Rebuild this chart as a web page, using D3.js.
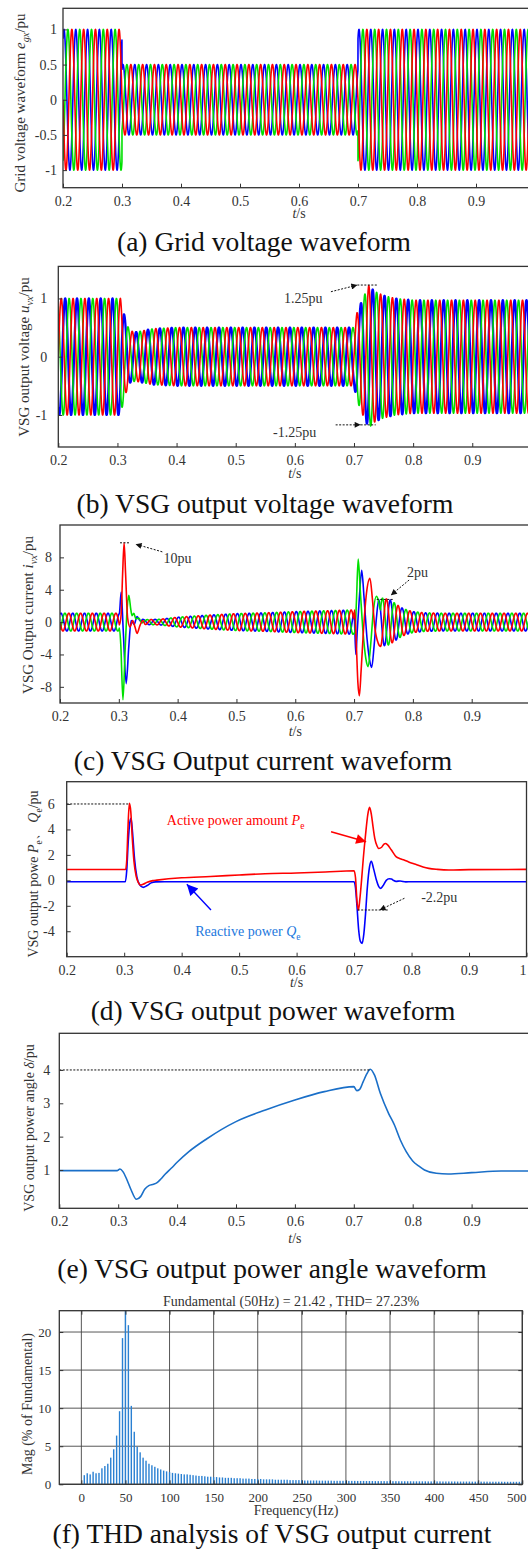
<!DOCTYPE html>
<html>
<head>
<meta charset="utf-8">
<script src="https://cdn.jsdelivr.net/npm/d3@7"></script>
<style>
  body { margin: 0; background: #fff; }
  svg text { font-family: "Liberation Serif", "Times New Roman", serif; fill: #333; }
</style>
</head>
<body>
<svg id="fig" width="528" height="1553"></svg>
<script>
// ---- shared time axis and three-phase carrier (50 Hz: 5 cycles per 0.1 s) ----
const FREQ = 50;
const T_REF = 0.3;
const tTicks = [0.2, 0.3, 0.4, 0.5, 0.6, 0.7, 0.8, 0.9];
const tTicksD = [0.2, 0.3, 0.4, 0.5, 0.6, 0.7, 0.8, 0.9, 1];
const phaseColor = ['#0000ff', '#00e000', '#ff0000'];   // blue, green, red
const phaseShiftDeg = [-30, -150, 90];

// (a) grid voltage envelope (pu)
const gridEnvT = [0.2, 0.3, 0.3, 0.7, 0.7, 1.0];
const gridEnvA = [1, 1, 0.5, 0.5, 1, 1];
const gridYTicks = [-1, -0.5, 0, 0.5, 1];

// (b) VSG output voltage envelope (pu)
const vsgVEnvT = [0.2, 0.305, 0.312, 0.32, 0.33, 0.36, 0.4, 0.7, 0.705, 0.715, 0.725, 0.735, 0.75, 0.77, 0.8, 1.0];
const vsgVEnvA = [1, 1, 0.7, 0.45, 0.42, 0.48, 0.5, 0.5, 0.75, 1.0, 1.22, 1.12, 1.05, 1.0, 0.97, 0.97];
const vsgVShiftDeg = 180;
const vsgVYTicks = [-1, 0, 1];

// (c) VSG output current envelope + transient samples per phase (pu)
const curEnvT = [0.2, 0.3, 0.345, 0.37, 0.4, 0.45, 0.5, 0.55, 0.6, 0.7, 0.745, 0.76, 0.77, 0.78, 0.79, 0.8, 0.82, 0.85, 1.0];
const curEnvA = [1.1, 1.1, 0.3, 0.35, 0.6, 0.85, 1.05, 1.15, 1.3, 1.5, 3.0, 2.8, 2.3, 1.8, 1.5, 1.3, 1.15, 1.1, 1.1];
const curBlueDip = [[0.301,1.07],[0.304,3.7],[0.3075,-1],[0.3125,-7.6],[0.317,-3],[0.321,0.2],[0.326,-0.3],[0.331,0.7],[0.337,0.1],[0.341,0.35],[0.345,0.15]];
const curGreenDip = [[0.301,-0.74],[0.3035,-3],[0.307,-9.6],[0.311,-3],[0.3145,2],[0.317,3.3],[0.3205,1.5],[0.3225,0.8],[0.3255,1.1],[0.329,0.4],[0.334,0.5],[0.339,-0.1],[0.345,0.15]];
const curRedDip = [[0.301,-0.34],[0.304,1],[0.3065,6],[0.309,9.8],[0.3115,6],[0.315,0.5],[0.319,-0.6],[0.3235,0.2],[0.3275,-0.6],[0.331,-1.4],[0.336,-0.4],[0.341,0.2],[0.345,-0.3]];
const curBlueRise = [[0.699,1.0],[0.7005,0.5],[0.703,-4],[0.7055,-1],[0.709,3],[0.713,6.4],[0.717,3],[0.722,-2],[0.726,-4.5],[0.73,-5.6],[0.734,-3],[0.738,0.5],[0.742,2.8],[0.745,1.5]];
const curGreenRise = [[0.699,-1.47],[0.7015,-1.2],[0.704,2.5],[0.707,7.8],[0.7105,4],[0.715,-1],[0.72,-4.5],[0.724,-5.5],[0.728,-3],[0.733,1.5],[0.738,3.2],[0.741,2.8],[0.745,1.5]];
const curRedRise = [[0.699,0.46],[0.701,1.5],[0.704,-3],[0.7065,-7.5],[0.709,-9.1],[0.712,-6],[0.716,-1],[0.721,3.5],[0.727,5.4],[0.731,3],[0.735,-0.5],[0.741,-2.6],[0.745,-3]];
const curYTicks = [-8, -4, 0, 4, 8];

// (d) VSG output power (pu)
const powT = [0.2, 0.3025, 0.3045, 0.3065, 0.309, 0.3115, 0.314, 0.317, 0.321, 0.325, 0.328, 0.333, 0.34, 0.35, 0.357, 0.4, 0.45, 0.5, 0.545, 0.6, 0.65, 0.7, 0.7025, 0.705, 0.7075, 0.71, 0.713, 0.716, 0.72, 0.724, 0.727, 0.73, 0.733, 0.736, 0.74, 0.743, 0.748, 0.752, 0.755, 0.758, 0.7646, 0.773, 0.78, 0.787, 0.795, 0.807, 0.82, 0.83, 0.845, 0.865, 0.9, 1.0];
const powP = [0.85, 0.85, 1.6, 4.0, 6.05, 5.4, 3.4, 1.5, 0.3, -0.2, -0.37, -0.3, -0.15, -0.02, 0.02, 0.2, 0.3, 0.42, 0.52, 0.58, 0.66, 0.75, 0.2, -1.6, -2.33, -1.5, 0.0, 1.7, 3.6, 5.2, 5.73, 5.2, 4.2, 3.3, 2.7, 2.5, 2.6, 2.85, 2.9, 2.8, 2.4, 1.86, 1.7, 1.6, 1.45, 1.26, 1.05, 0.94, 0.86, 0.81, 0.84, 0.86];
const reacT = [0.2, 0.302, 0.3045, 0.307, 0.31, 0.312, 0.3145, 0.318, 0.322, 0.327, 0.333, 0.34, 0.347, 0.355, 0.37, 0.7, 0.7025, 0.705, 0.708, 0.711, 0.714, 0.717, 0.72, 0.723, 0.727, 0.73, 0.734, 0.739, 0.743, 0.746, 0.75, 0.756, 0.761, 0.765, 0.769, 0.773, 0.78, 0.79, 0.8, 1.0];
const reacQ = [-0.11, -0.11, 0.8, 3.0, 4.6, 4.87, 3.8, 1.7, 0.3, -0.35, -0.55, -0.4, -0.2, -0.12, -0.11, -0.11, -0.6, -2.0, -3.9, -4.8, -4.95, -4.2, -2.6, -0.6, 1.1, 1.5, 0.9, 0.0, -0.5, -0.63, -0.45, 0.0, 0.12, 0.1, -0.02, -0.08, -0.05, -0.12, -0.11, -0.11];
const powYTicks = [-4, -2, 0, 2, 4, 6];

// (e) power angle (pu)
const angT = [0.2, 0.25, 0.298, 0.303, 0.308, 0.315, 0.322, 0.331, 0.338, 0.345, 0.352, 0.36, 0.366, 0.372, 0.38, 0.39, 0.4, 0.42, 0.45, 0.5, 0.55, 0.6, 0.65, 0.7, 0.705, 0.71, 0.716, 0.722, 0.728, 0.735, 0.745, 0.759, 0.769, 0.779, 0.789, 0.8, 0.81, 0.82, 0.84, 0.86, 0.9, 0.95, 1.0];
const angV = [0.98, 0.98, 0.98, 1.03, 0.95, 0.7, 0.4, 0.12, 0.2, 0.42, 0.53, 0.57, 0.62, 0.72, 0.88, 1.05, 1.23, 1.55, 1.93, 2.45, 2.8, 3.1, 3.35, 3.5, 3.38, 3.42, 3.65, 3.88, 4.02, 3.85, 3.3, 2.7, 2.35, 1.9, 1.55, 1.27, 1.12, 1.0, 0.9, 0.88, 0.92, 0.97, 0.97];
const angYTicks = [1, 2, 3, 4];

// (f) FFT spectrum: bars every 10/3 Hz starting at 10/3 Hz, % of fundamental
const fftStep = 10 / 3;
const fftMag = [
  1.2, 1.45, 1.3, 1.65, 1.45, 1.5, 2.1, 2.4, 2.7, 3.5, 4.6, 6.4, 9.6, 19.2, 100,
  20.9, 10.3, 6.9, 4.95, 4.2, 3.5, 3.1, 2.7, 2.5, 2.3, 2.1, 1.95, 1.8, 1.7, 1.6,
  1.5, 1.45, 1.4, 1.35, 1.3, 1.3, 1.25, 1.2, 1.15, 1.1, 1.1, 1.05, 1.0, 1.0, 0.95,
  0.95, 0.9, 0.9, 0.85, 0.85, 0.85, 0.8, 0.8, 0.8, 0.75, 0.75, 0.75, 0.7, 0.7, 0.7,
  0.7, 0.65, 0.65, 0.65, 0.65, 0.6, 0.6, 0.6, 0.6, 0.6, 0.55, 0.55, 0.55, 0.55, 0.55,
  0.5, 0.5, 0.5, 0.5, 0.5, 0.48, 0.48, 0.48, 0.48, 0.48, 0.46, 0.46, 0.46, 0.46, 0.46,
  0.45, 0.45, 0.45, 0.44, 0.44, 0.44, 0.43, 0.43, 0.43, 0.42, 0.42, 0.42, 0.42, 0.41, 0.41,
  0.41, 0.41, 0.4, 0.4, 0.4, 0.4, 0.4, 0.39, 0.39, 0.39, 0.39, 0.39, 0.38, 0.38, 0.38,
  0.38, 0.38, 0.37, 0.37, 0.37, 0.37, 0.37, 0.36, 0.36, 0.36, 0.36, 0.36, 0.35, 0.35, 0.35,
  0.35, 0.35, 0.35, 0.34, 0.34, 0.34, 0.34, 0.34, 0.33, 0.33, 0.33, 0.33, 0.33, 0.33, 0.33
];
const fftXTicks = [0, 50, 100, 150, 200, 250, 300, 350, 400, 450, 500];
const fftYTicks = [0, 5, 10, 15, 20];

// ---------------------------------------------------------------------------
const svg = d3.select('#fig');
const defs = svg.append('defs');

function marker(id, color, len, wid) {
  defs.append('marker').attr('id', id)
    .attr('viewBox', '0 0 10 10').attr('refX', 10).attr('refY', 5)
    .attr('markerUnits', 'userSpaceOnUse')
    .attr('markerWidth', len).attr('markerHeight', wid)
    .attr('orient', 'auto')
    .append('path').attr('d', 'M0,0L10,5L0,10z').attr('fill', color);
}
marker('arrK', '#111', 9, 6);
marker('arrR', '#ff0000', 13, 10);
marker('arrB', '#0000ff', 13, 11);

function interp(ts, vs, t) {
  const i = d3.bisectRight(ts, t);
  if (i <= 0) return vs[0];
  if (i >= ts.length) return vs[vs.length - 1];
  const t0 = ts[i - 1], t1 = ts[i];
  return vs[i - 1] + (vs[i] - vs[i - 1]) * (t - t0) / (t1 - t0);
}

function phaseSeries(envT, envA, shiftDeg, windows) {
  const pts = [];
  windows = windows || [];
  for (let i = 0; i <= 8000; i++) {
    const t = 0.2 + i * 0.0001;
    if (windows.some(w => t > w[0][0] && t < w[w.length - 1][0])) continue;
    const a = interp(envT, envA, t);
    pts.push([t, a * Math.cos(2 * Math.PI * FREQ * (t - T_REF) + shiftDeg * Math.PI / 180)]);
  }
  windows.forEach(w => w.forEach(p => pts.push(p)));
  pts.sort((a, b) => a[0] - b[0]);
  return pts;
}

let clipN = 0;
function makePanel(o) {
  const x = d3.scaleLinear().domain(o.xDomain).range([o.left, o.right]);
  const y = d3.scaleLinear().domain(o.yDomain).range([o.bottom, o.top]);
  const g = svg.append('g');
  const id = 'clip' + (clipN++);
  defs.append('clipPath').attr('id', id).append('rect')
    .attr('x', o.left).attr('y', o.top)
    .attr('width', o.right - o.left).attr('height', o.bottom - o.top);
  const plot = g.append('g').attr('clip-path', `url(#${id})`);
  return { x, y, g, plot, o };
}

function rich(sel, parts, fs) {
  let inSub = false;
  parts.forEach(p => {
    const ts = sel.append('tspan').text(p.t);
    if (p.i) ts.attr('font-style', 'italic');
    if (p.sub && !inSub) { ts.attr('dy', fs * 0.28); inSub = true; }
    else if (!p.sub && inSub) { ts.attr('dy', -fs * 0.28); inSub = false; }
    if (p.sub) ts.attr('font-size', fs * 0.68);
  });
}

function drawAxes(P, a) {
  const { x, y, g, o } = P;
  const fmt = d => String(d);
  const xa = g.append('g').attr('transform', `translate(0,${o.bottom})`)
    .call(d3.axisBottom(x).tickValues(a.xTicks).tickSizeInner(-4).tickSizeOuter(0)
      .tickPadding(a.xPad).tickFormat(a.xFmt || fmt));
  const ya = g.append('g').attr('transform', `translate(${o.left},0)`)
    .call(d3.axisLeft(y).tickValues(a.yTicks).tickSizeInner(-4).tickSizeOuter(0)
      .tickPadding(a.yPad).tickFormat(fmt));
  [xa, ya].forEach(ax => {
    ax.attr('font-family', null).attr('font-size', null).attr('color', '#333');
    ax.select('.domain').remove();
    ax.selectAll('text').style('font-size', a.tickFs + 'px');
  });
  // keep a label that sits on the right edge inside the picture
  xa.selectAll('text').each(function (d) {
    const w = this.getComputedTextLength();
    const over = x(d) + w / 2 - 526;
    if (over > 0) d3.select(this).attr('dx', -over);
  });
  if (a.topTicks) {
    g.append('g').attr('transform', `translate(0,${o.top})`)
      .call(d3.axisTop(x).tickValues(a.xTicks).tickSizeInner(-4).tickSizeOuter(0).tickFormat(''))
      .attr('color', '#333').select('.domain').remove();
    g.append('g').attr('transform', `translate(${o.right},0)`)
      .call(d3.axisRight(y).tickValues(a.yTicks).tickSizeInner(-4).tickSizeOuter(0).tickFormat(''))
      .attr('color', '#333').select('.domain').remove();
  }
  g.append('rect').attr('x', o.left).attr('y', o.top)
    .attr('width', o.right - o.left).attr('height', o.bottom - o.top)
    .attr('fill', 'none').attr('stroke', '#333').attr('stroke-width', 1.3);
  // y label
  const yl = g.append('text')
    .attr('transform', `translate(${a.yLabX},${a.yLabY}) rotate(-90)`)
    .attr('text-anchor', 'middle').style('font-size', a.yLabFs + 'px');
  rich(yl, a.yLab, a.yLabFs);
  if (a.tLabDy) {
    const tl = g.append('text').attr('x', x(0.6)).attr('y', o.bottom + a.tLabDy)
      .attr('text-anchor', 'middle').style('font-size', a.tickFs + 'px');
    rich(tl, [{ t: 't', i: true }, { t: '/s' }], a.tickFs);
  }
  svg.append('text').attr('x', a.capX).attr('y', a.capY).attr('text-anchor', 'middle')
    .style('font-size', '27.5px').style('fill', '#111').text(a.cap);
}

function dotted(P, t0, v0, t1, v1, mk) {
  const l = P.g.append('line')
    .attr('x1', P.x(t0)).attr('y1', P.y(v0)).attr('x2', P.x(t1)).attr('y2', P.y(v1))
    .attr('stroke', '#111').attr('stroke-width', 1).attr('stroke-dasharray', '2,1.5');
  if (mk) l.attr('marker-end', `url(#${mk})`);
  return l;
}

function label(P, t, v, txt, fs, color) {
  P.g.append('text').attr('x', P.x(t)).attr('y', P.y(v))
    .style('font-size', fs + 'px').style('fill', color || '#333').text(txt);
}

function threePhase(P, envT, envA, extraShift, windowsByPhase, widths, curve) {
  const line = d3.line().x(d => P.x(d[0])).y(d => P.y(d[1])).curve(curve || d3.curveLinear);
  phaseColor.forEach((c, k) => {
    const pts = phaseSeries(envT, envA, phaseShiftDeg[k] + extraShift, windowsByPhase ? windowsByPhase[k] : null);
    P.plot.append('path').attr('d', line(pts)).attr('fill', 'none')
      .attr('stroke', c).attr('stroke-width', widths[k]).attr('stroke-linejoin', 'round');
  });
}

const tFmt = d => d === 1 ? '1' : d3.format('.1f')(d);

// ---------------- (a) ----------------
const A = makePanel({ left: 63, right: 535, top: 8.3, bottom: 187.7, xDomain: [0.2, 1.0], yDomain: [-1.25, 1.3] });
threePhase(A, gridEnvT, gridEnvA, 0, null, [1.6, 1.6, 1.6]);
drawAxes(A, {
  xTicks: tTicks, yTicks: gridYTicks, xFmt: tFmt, xPad: 8, yPad: 6, tickFs: 14,
  yLab: [{ t: 'Grid voltage waveform ' }, { t: 'e', i: true }, { t: 'gx', i: true, sub: true }, { t: '/pu' }],
  yLabX: 25, yLabY: 103, yLabFs: 15, tLabDy: 30,
  cap: '(a) Grid voltage waveform', capX: 264, capY: 251
});

// ---------------- (b) ----------------
const B = makePanel({ left: 58.3, right: 531.4, top: 266.4, bottom: 447, xDomain: [0.2, 1.0], yDomain: [-1.55, 1.55] });
threePhase(B, vsgVEnvT, vsgVEnvA, vsgVShiftDeg, null, [2.3, 1.6, 1.6]);
dotted(B, 0.661, 1.115, 0.7056, 1.23, 'arrK');
dotted(B, 0.7056, 1.23, 0.7406, 1.23);
dotted(B, 0.669, -1.17, 0.7113, -1.17, 'arrK');
dotted(B, 0.7113, -1.17, 0.7367, -1.17);
label(B, 0.5816, 0.92, '1.25pu', 14);
label(B, 0.563, -1.386, '-1.25pu', 14);
drawAxes(B, {
  xTicks: tTicks, yTicks: vsgVYTicks, xFmt: tFmt, xPad: 8, yPad: 11, tickFs: 14,
  yLab: [{ t: 'VSG output voltage ' }, { t: 'u', i: true }, { t: 'vx', i: true, sub: true }, { t: '/pu' }],
  yLabX: 29, yLabY: 357, yLabFs: 15, tLabDy: 31,
  cap: '(b) VSG output voltage waveform', capX: 265, capY: 513
});

// ---------------- (c) ----------------
const C = makePanel({ left: 60, right: 530.5, top: 525, bottom: 703, xDomain: [0.2, 1.0], yDomain: [-10, 12] });
threePhase(C, curEnvT, curEnvA, 0,
  [[curBlueDip, curBlueRise], [curGreenDip, curGreenRise], [curRedDip, curRedRise]],
  [1.6, 1.6, 1.6], d3.curveMonotoneX);
dotted(C, 0.302, 9.8, 0.319, 9.8);
dotted(C, 0.374, 8.68, 0.3285, 9.63, 'arrK');
label(C, 0.376, 7.3, '10pu', 14);
dotted(C, 0.7385, 2.8, 0.766, 2.8);
dotted(C, 0.7936, 5.2, 0.7626, 3.33, 'arrK');
label(C, 0.79, 5.55, '2pu', 14);
drawAxes(C, {
  xTicks: tTicks, yTicks: curYTicks, xFmt: tFmt, xPad: 8, yPad: 8, tickFs: 14,
  yLab: [{ t: 'VSG Output current ' }, { t: 'i', i: true }, { t: 'vx', i: true, sub: true }, { t: '/pu' }],
  yLabX: 33, yLabY: 615, yLabFs: 15, tLabDy: 33,
  cap: '(c) VSG Output current waveform', capX: 263, capY: 770
});

// ---------------- (d) ----------------
const D = makePanel({ left: 66.7, right: 526.5, top: 781.7, bottom: 956.7, xDomain: [0.2, 1.0], yDomain: [-6, 7.75] });
const lineD = d3.line().x(d => D.x(d[0])).y(d => D.y(d[1])).curve(d3.curveMonotoneX);
D.plot.append('path').attr('d', lineD(d3.zip(reacT, reacQ))).attr('fill', 'none')
  .attr('stroke', '#0000ff').attr('stroke-width', 1.6);
D.plot.append('path').attr('d', lineD(d3.zip(powT, powP))).attr('fill', 'none')
  .attr('stroke', '#ff0000').attr('stroke-width', 1.6);
dotted(D, 0.2, 6, 0.309, 6);
dotted(D, 0.7063, -2.33, 0.7585, -2.33);
dotted(D, 0.7876, -1.41, 0.7444, -2.33, 'arrK');
label(D, 0.8167, -1.67, '-2.2pu', 14);
D.g.append('line').attr('x1', D.x(0.66)).attr('y1', D.y(3.82)).attr('x2', D.x(0.721)).attr('y2', D.y(3.03))
  .attr('stroke', '#ff0000').attr('stroke-width', 1.4).attr('marker-end', 'url(#arrR)');
D.g.append('line').attr('x1', D.x(0.451)).attr('y1', D.y(-2.33)).attr('x2', D.x(0.409)).attr('y2', D.y(-0.31))
  .attr('stroke', '#0000ff').attr('stroke-width', 1.4).attr('marker-end', 'url(#arrB)');
const pl = D.g.append('text').attr('x', D.x(0.3742)).attr('y', D.y(4.35)).style('font-size', '14px').style('fill', '#ff0000');
rich(pl, [{ t: 'Active power amount ' }, { t: 'P', i: true }, { t: 'e', sub: true }], 14);
pl.selectAll('tspan').style('fill', '#ff0000');
const ql = D.g.append('text').attr('x', D.x(0.4236)).attr('y', D.y(-4.38)).style('font-size', '14px');
rich(ql, [{ t: 'Reactive power ' }, { t: 'Q', i: true }, { t: 'e', sub: true }], 14);
ql.selectAll('tspan').style('fill', '#2277dd');
drawAxes(D, {
  xTicks: tTicksD, yTicks: powYTicks, xFmt: tFmt, xPad: 8, yPad: 12, tickFs: 14,
  yLab: [{ t: 'VSG output powe ' }, { t: 'P', i: true }, { t: 'e', sub: true }, { t: '、 ' }, { t: 'Q', i: true }, { t: 'e', sub: true }, { t: '/pu' }],
  yLabX: 38, yLabY: 874, yLabFs: 14, tLabDy: 30,
  cap: '(d) VSG output power waveform', capX: 273, capY: 1020
});

// ---------------- (e) ----------------
const E = makePanel({ left: 59.3, right: 530.5, top: 1033.3, bottom: 1208.3, xDomain: [0.2, 1.0], yDomain: [-0.15, 5.1] });
dotted(E, 0.2, 4, 0.728, 4);
E.plot.append('path').attr('d', d3.line().x(d => E.x(d[0])).y(d => E.y(d[1])).curve(d3.curveMonotoneX)(d3.zip(angT, angV)))
  .attr('fill', 'none').attr('stroke', '#1a6fc8').attr('stroke-width', 1.6);
drawAxes(E, {
  xTicks: tTicks, yTicks: angYTicks, xFmt: tFmt, xPad: 8, yPad: 9, tickFs: 14,
  yLab: [{ t: 'VSG output power angle ' }, { t: 'δ', i: true }, { t: '/pu' }],
  yLabX: 34, yLabY: 1128, yLabFs: 14, tLabDy: 35,
  cap: '(e) VSG output power angle waveform', capX: 272, capY: 1278
});

// ---------------- (f) ----------------
const F = makePanel({ left: 59.3, right: 522.3, top: 1310.7, bottom: 1484.3, xDomain: [-25, 500], yDomain: [0, 22.8] });
F.plot.append('g').selectAll('line').data(fftXTicks).join('line')
  .attr('x1', d => F.x(d)).attr('x2', d => F.x(d)).attr('y1', F.o.top).attr('y2', F.o.bottom)
  .attr('stroke', '#444').attr('stroke-width', 0.9);
F.plot.append('g').selectAll('line').data(fftYTicks).join('line')
  .attr('x1', F.o.left).attr('x2', F.o.right).attr('y1', d => F.y(d)).attr('y2', d => F.y(d))
  .attr('stroke', '#444').attr('stroke-width', 0.9);
F.plot.append('g').selectAll('rect').data(fftMag).join('rect')
  .attr('x', (d, i) => F.x((i + 1) * fftStep) - 0.7).attr('width', 1.4)
  .attr('y', d => F.y(d)).attr('height', d => F.y(0) - F.y(d))
  .attr('fill', '#2a80d2');
drawAxes(F, {
  xTicks: fftXTicks, yTicks: fftYTicks, xPad: 8, yPad: 8, tickFs: 13, topTicks: true,
  yLab: [{ t: 'Mag (% of Fundamental)' }],
  yLabX: 32, yLabY: 1404, yLabFs: 14,
  cap: '(f) THD analysis of VSG output current', capX: 272, capY: 1543
});
svg.append('text').attr('x', 291).attr('y', 1306).attr('text-anchor', 'middle')
  .style('font-size', '14px').text('Fundamental (50Hz) = 21.42 , THD= 27.23%');
svg.append('text').attr('x', 296).attr('y', 1515).attr('text-anchor', 'middle')
  .style('font-size', '14px').text('Frequency(Hz)');
</script>
</body>
</html>
